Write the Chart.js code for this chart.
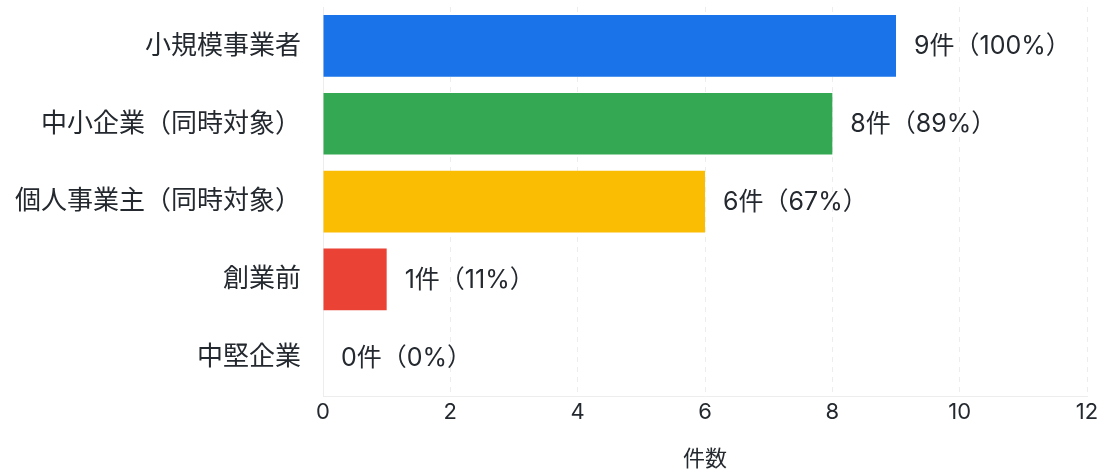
<!DOCTYPE html>
<html>
<head>
<meta charset="utf-8">
<script src="https://cdn.jsdelivr.net/npm/chart.js@4"></script>
<style>
  html, body { margin: 0; padding: 0; background: #fff; }
  #wrap { width: 1102px; height: 469px; }
</style>
</head>
<body>
<div id="wrap"><canvas id="countChart"></canvas></div>
<script>
// categories and values
const categories = ['小規模事業者', '中小企業（同時対象）', '個人事業主（同時対象）', '創業前', '中堅企業'];
const counts = [9, 8, 6, 1, 0];
const percents = [100, 89, 67, 11, 0];
const barColors = ['#1a73e8', '#34a853', '#fbbc04', '#ea4335', '#9aa0a6'];
const xTicks = [0, 2, 4, 6, 8, 10, 12];

const FONT = "Inter, 'Noto Sans CJK JP', sans-serif";
const TEXT = '#24292f';

// draws "N件（P%）" just past the end of each bar
const valueLabels = {
    id: 'valueLabels',
    afterDatasetsDraw(chart) {
        const ctx = chart.ctx;
        const meta = chart.getDatasetMeta(0);
        ctx.save();
        ctx.font = '25px ' + FONT;
        ctx.fillStyle = TEXT;
        ctx.textBaseline = 'middle';
        ctx.textAlign = 'left';
        meta.data.forEach((bar, i) => {
            ctx.fillText(counts[i] + '件（' + percents[i] + '%）', bar.x + 18, bar.y + 1);
        });
        ctx.restore();
    }
};

function initChart() {
    const ctx = document.getElementById('countChart').getContext('2d');
    new Chart(ctx, {
        type: 'bar',
        data: {
            labels: categories,
            datasets: [{
                data: counts,
                backgroundColor: barColors,
                borderWidth: 0,
                barPercentage: 0.88,
                categoryPercentage: 0.9
            }]
        },
        options: {
            indexAxis: 'y',
            responsive: true,
            maintainAspectRatio: false,
            animation: false,
            layout: { padding: { top: 7, right: 15, left: 0, bottom: 0 } },
            plugins: {
                legend: { display: false },
                tooltip: { enabled: false }
            },
            scales: {
                x: {
                    min: 0,
                    max: 12,
                    afterBuildTicks(axis) { axis.ticks = xTicks.map(v => ({ value: v })); },
                    grid: {
                        color: '#ededed',
                        drawTicks: false
                    },
                    border: { display: true, color: '#ededed', dash: [5, 5] },
                    ticks: {
                        padding: 3,
                        color: TEXT,
                        font: { family: FONT, size: 22 }
                    },
                    title: {
                        display: true,
                        text: '件数',
                        color: TEXT,
                        font: { family: FONT, size: 22 },
                        padding: { top: 18, bottom: -4 }
                    }
                },
                y: {
                    afterFit(scale) {
                        scale.paddingTop = 0;
                        scale.paddingBottom = 0;
                        scale.width = 323;
                    },
                    grid: { display: false, drawTicks: false },
                    border: { display: true, color: '#ededed' },
                    ticks: {
                        padding: 22,
                        color: TEXT,
                        font: { family: FONT, size: 26 }
                    }
                }
            }
        },
        plugins: [valueLabels]
    });
}

initChart();
</script>
</body>
</html>
